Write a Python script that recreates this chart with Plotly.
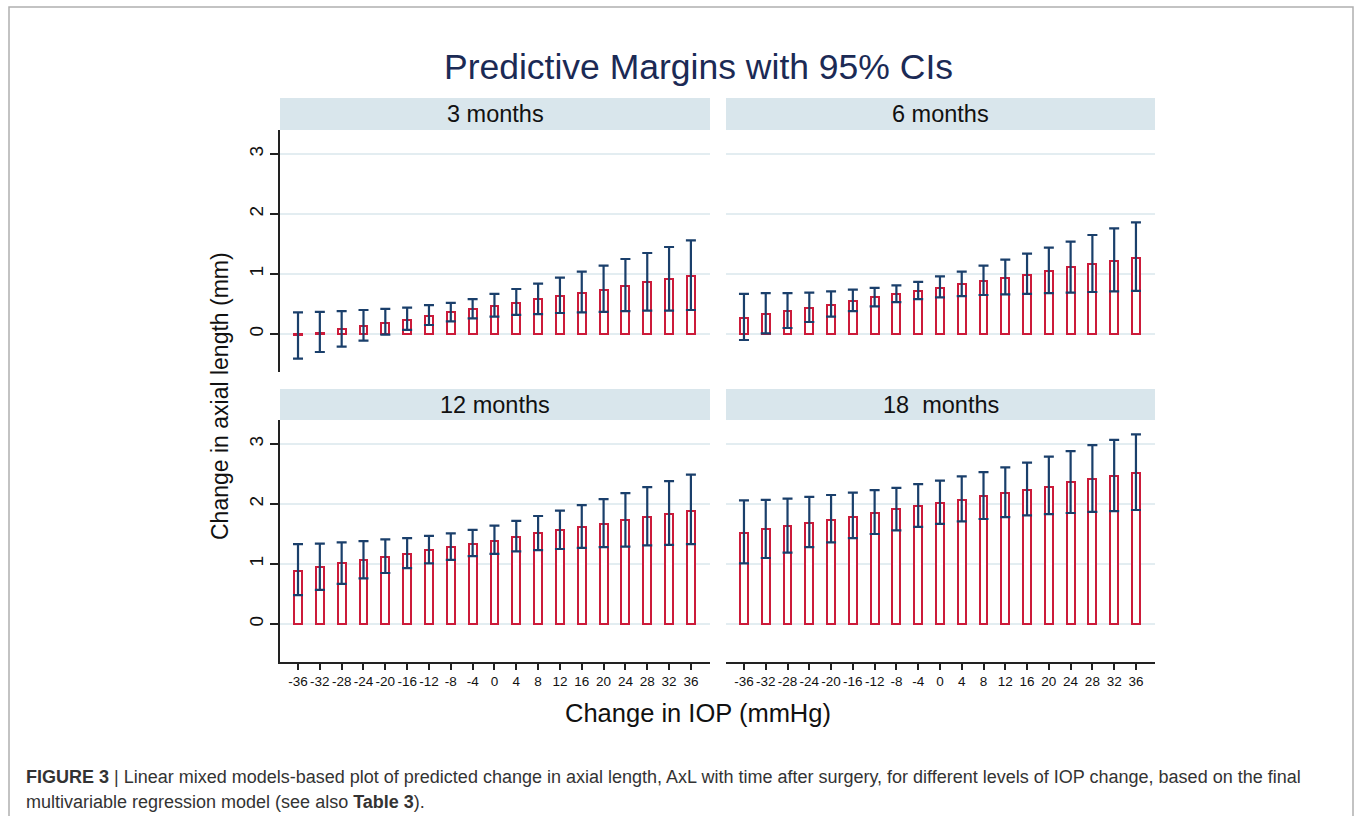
import plotly.graph_objects as go

iop = [-36, -32, -28, -24, -20, -16, -12, -8, -4, 0, 4, 8, 12, 16, 20, 24, 28, 32, 36]
panels = ["3 months", "6 months", "12 months", "18\u00a0 months"]

m3 = [-0.01, 0.02, 0.08, 0.13, 0.19, 0.24, 0.30, 0.36, 0.41, 0.47, 0.52, 0.58, 0.63, 0.69, 0.74, 0.80, 0.86, 0.91, 0.97]
m3_hi = [0.36, 0.37, 0.38, 0.40, 0.42, 0.44, 0.48, 0.52, 0.58, 0.67, 0.75, 0.84, 0.94, 1.04, 1.14, 1.25, 1.35, 1.45, 1.56]
m3_lo = [-0.41, -0.30, -0.21, -0.11, -0.01, 0.07, 0.15, 0.21, 0.26, 0.29, 0.32, 0.33, 0.35, 0.36, 0.37, 0.38, 0.39, 0.39, 0.40]

m6 = [0.27, 0.33, 0.38, 0.44, 0.49, 0.55, 0.61, 0.66, 0.72, 0.77, 0.83, 0.88, 0.94, 0.99, 1.05, 1.11, 1.16, 1.22, 1.27]
m6_hi = [0.67, 0.68, 0.68, 0.69, 0.71, 0.74, 0.77, 0.81, 0.87, 0.96, 1.04, 1.14, 1.24, 1.34, 1.44, 1.54, 1.65, 1.76, 1.86]
m6_lo = [-0.10, 0.01, 0.10, 0.20, 0.29, 0.38, 0.46, 0.53, 0.58, 0.61, 0.63, 0.65, 0.66, 0.67, 0.68, 0.69, 0.70, 0.71, 0.72]

m12 = [0.89, 0.95, 1.01, 1.06, 1.12, 1.17, 1.23, 1.28, 1.34, 1.39, 1.45, 1.51, 1.56, 1.62, 1.67, 1.73, 1.78, 1.84, 1.89]
m12_hi = [1.33, 1.34, 1.36, 1.38, 1.41, 1.43, 1.47, 1.51, 1.57, 1.64, 1.72, 1.80, 1.89, 1.98, 2.08, 2.18, 2.28, 2.38, 2.49]
m12_lo = [0.48, 0.57, 0.67, 0.76, 0.85, 0.93, 1.01, 1.07, 1.13, 1.17, 1.21, 1.23, 1.25, 1.27, 1.28, 1.29, 1.31, 1.32, 1.33]

m18 = [1.52, 1.58, 1.63, 1.69, 1.74, 1.79, 1.85, 1.91, 1.96, 2.02, 2.07, 2.13, 2.18, 2.24, 2.29, 2.36, 2.41, 2.46, 2.52]
m18_hi = [2.06, 2.07, 2.09, 2.12, 2.15, 2.19, 2.23, 2.27, 2.33, 2.39, 2.46, 2.53, 2.61, 2.69, 2.79, 2.88, 2.98, 3.07, 3.16]
m18_lo = [1.01, 1.10, 1.19, 1.28, 1.36, 1.43, 1.50, 1.56, 1.62, 1.67, 1.71, 1.75, 1.78, 1.81, 1.83, 1.85, 1.87, 1.88, 1.90]

series = [(m3, m3_hi, m3_lo), (m6, m6_hi, m6_lo), (m12, m12_hi, m12_lo), (m18, m18_hi, m18_lo)]

W, H = 1357, 816
def px_x(p): return p / W
def px_y(p): return 1 - p / H

BAR_RED = "#cc1b3a"
NAVY = "#1a3f6b"
GRID = "#e3edf1"
STRIP = "#d9e6ec"
FONT = "Liberation Sans, Arial, sans-serif"

xdom = [(px_x(280), px_x(710)), (px_x(726), px_x(1155))]
ydom = [(px_y(372), px_y(130)), (px_y(662), px_y(420))]
yrange = [-0.633, 3.4]
xrange = [-39.3, 39.5]

fig = go.Figure()
layout = dict(
    width=W, height=H, margin=dict(l=0, r=0, t=0, b=0),
    paper_bgcolor="white", plot_bgcolor="white", showlegend=False,
    font=dict(family=FONT, color="#111111"),
    bargap=0,
)

shapes = []
annotations = []
for i, (vals, hi, lo) in enumerate(series):
    r, c = divmod(i, 2)
    n = i + 1
    xa = "x" if n == 1 else f"x{n}"
    ya = "y" if n == 1 else f"y{n}"
    fig.add_trace(go.Bar(
        x=iop, y=vals, width=1.45, xaxis=xa, yaxis=ya,
        marker=dict(color="white", line=dict(color=BAR_RED, width=2)),
        error_y=dict(type="data", symmetric=False,
                     array=[h - v for h, v in zip(hi, vals)],
                     arrayminus=[v - l for v, l in zip(vals, lo)],
                     color=NAVY, thickness=2.2, width=5),
    ))
    xkey = "xaxis" if n == 1 else f"xaxis{n}"
    ykey = "yaxis" if n == 1 else f"yaxis{n}"
    bottom = (r == 1)
    left = (c == 0)
    layout[xkey] = dict(
        domain=list(xdom[c]), anchor=ya, range=xrange,
        tickmode="array", tickvals=iop, ticktext=[str(v) for v in iop],
        showticklabels=bottom, ticks="outside" if bottom else "",
        ticklen=6, tickwidth=1.5, tickcolor="#222222",
        showline=bottom, linecolor="#222222", linewidth=1.5,
        showgrid=False, zeroline=False,
        tickfont=dict(size=13.5, color="#111111"),
    )
    layout[ykey] = dict(
        domain=list(ydom[r]), anchor=xa, range=yrange,
        tickmode="array", tickvals=[0, 1, 2, 3],
        showticklabels=left, ticks="outside" if left else "",
        ticklen=8, tickwidth=1.5, tickcolor="#222222", tickangle=-90,
        showline=left, linecolor="#222222", linewidth=1.5,
        showgrid=True, gridcolor=GRID, gridwidth=2, zeroline=False,
        tickfont=dict(size=19, color="#111111"),
    )
    # strip header
    sy0 = 98 if r == 0 else 389
    sy1 = 130 if r == 0 else 420
    shapes.append(dict(type="rect", xref="paper", yref="paper",
                       x0=xdom[c][0], x1=xdom[c][1], y0=px_y(sy1), y1=px_y(sy0),
                       fillcolor=STRIP, line=dict(width=0), layer="below"))
    annotations.append(dict(text=panels[i], xref="paper", yref="paper",
                            x=(xdom[c][0] + xdom[c][1]) / 2, y=px_y((sy0 + sy1) / 2),
                            xanchor="center", yanchor="middle", showarrow=False,
                            font=dict(size=23.5, color="#111111", family=FONT)))

# outer border
shapes.append(dict(type="rect", xref="paper", yref="paper",
                   x0=px_x(9), x1=px_x(1353), y0=-0.01, y1=px_y(7),
                   line=dict(color="#b0b0b0", width=1.5), fillcolor="rgba(0,0,0,0)"))

annotations += [
    dict(text="Predictive Margins with 95% CIs", xref="paper", yref="paper",
         x=px_x(698), y=px_y(67), xanchor="center", yanchor="middle", showarrow=False,
         font=dict(size=35.5, color="#1b2a55", family=FONT)),
    dict(text="Change in axial length (mm)", xref="paper", yref="paper",
         x=px_x(220), y=px_y(396), xanchor="center", yanchor="middle", showarrow=False,
         textangle=-90, font=dict(size=23, color="#111111", family=FONT)),
    dict(text="Change in IOP (mmHg)", xref="paper", yref="paper",
         x=px_x(698), y=px_y(713), xanchor="center", yanchor="middle", showarrow=False,
         font=dict(size=25.5, color="#111111", family=FONT)),
    dict(text="<b>FIGURE 3</b> | Linear mixed models-based plot of predicted change in axial length, AxL with time after surgery, for different levels of IOP change, based on the final",
         xref="paper", yref="paper", x=px_x(24), y=px_y(777), xanchor="left", yanchor="middle",
         showarrow=False, font=dict(size=18, color="#333333", family=FONT)),
    dict(text="multivariable regression model (see also <b>Table 3</b>).",
         xref="paper", yref="paper", x=px_x(24), y=px_y(802), xanchor="left", yanchor="middle",
         showarrow=False, font=dict(size=18, color="#333333", family=FONT)),
]

layout["shapes"] = shapes
layout["annotations"] = annotations
fig.update_layout(**layout)
fig.write_html("out.html", config={"displayModeBar": False},
               post_script="document.body.style.margin='0';document.body.style.overflow='hidden';")
